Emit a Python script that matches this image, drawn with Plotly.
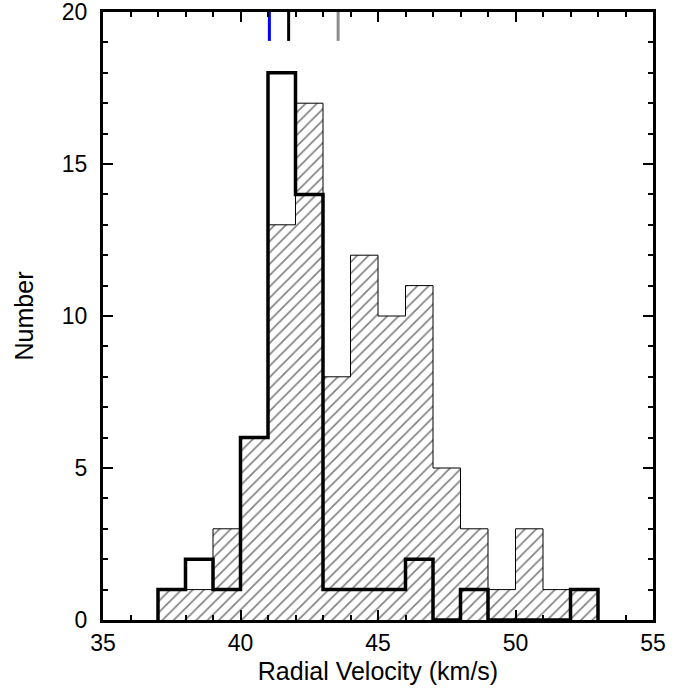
import plotly.graph_objects as go

# Histogram bin edges (left edges) and counts
bin_left = [37, 38, 39, 40, 41, 42, 43, 44, 45, 46, 47, 48, 49, 50, 51, 52]
bin_width = 1
all_counts = [1, 1, 3, 6, 13, 17, 8, 12, 10, 11, 5, 3, 1, 3, 1, 1]
sub_counts = [1, 2, 1, 6, 18, 14, 1, 1, 1, 2, 0, 1, 0, 0, 0, 1]

# Markers at top of panel
marker_x = [41.05, 41.75, 43.55]
marker_colors = ["#0000ff", "#000000", "#8c8c8c"]
marker_y = [19.05, 20]

x_ticks = [35, 40, 45, 50, 55]
y_ticks = [0, 5, 10, 15, 20]


def step_xy(lefts, counts, w):
    xs = [lefts[0]]
    ys = [0]
    for l, c in zip(lefts, counts):
        xs.append(l)
        ys.append(c)
    xs.append(lefts[-1] + w)
    ys.append(counts[-1])
    xs.append(lefts[-1] + w)
    ys.append(0)
    return xs, ys


fig = go.Figure()

xa, ya = step_xy(bin_left, all_counts, bin_width)
fig.add_trace(go.Scatter(
    x=xa, y=ya, mode="lines", line=dict(shape="hv", color="black", width=1),
    fill="tozeroy", fillcolor="white",
    fillpattern=dict(shape="/", fgcolor="black", bgcolor="white", size=8, solidity=0.2),
    hoverinfo="skip", showlegend=False,
))

xs, ys = step_xy(bin_left, sub_counts, bin_width)
fig.add_trace(go.Scatter(
    x=xs, y=ys, mode="lines", line=dict(shape="hv", color="black", width=3.5),
    hoverinfo="skip", showlegend=False,
))

for mx, mc in zip(marker_x, marker_colors):
    fig.add_trace(go.Scatter(
        x=[mx, mx], y=marker_y, mode="lines", line=dict(color=mc, width=3),
        hoverinfo="skip", showlegend=False,
    ))

font = "Liberation Sans, Arial, Helvetica, sans-serif"
fig.update_layout(
    width=694, height=690,
    margin=dict(l=103, r=41, t=12, b=70),
    paper_bgcolor="white", plot_bgcolor="white",
    font=dict(family=font, size=23, color="black"),
)
fig.update_xaxes(
    range=[35, 55], tickvals=x_ticks, ticks="inside", ticklen=10, tickwidth=2,
    tickcolor="black", showline=True, linewidth=3, linecolor="black", mirror="ticks",
    showgrid=False, zeroline=False, ticklabelstandoff=0, automargin=False,
    ticklabeloverflow="allow",
    minor=dict(dtick=1, ticks="inside", ticklen=5, tickwidth=2, tickcolor="black", showgrid=False),
    title=dict(text="Radial Velocity (km/s)", font=dict(size=25), standoff=8),
    tickfont=dict(size=23),
)
fig.update_yaxes(
    range=[0, 20], tickvals=y_ticks, ticks="inside", ticklen=10, tickwidth=2,
    tickcolor="black", showline=True, linewidth=3, linecolor="black", mirror="ticks",
    showgrid=False, zeroline=False, ticklabelstandoff=8, automargin=False,
    ticklabeloverflow="allow",
    minor=dict(dtick=1, ticks="inside", ticklen=5, tickwidth=2, tickcolor="black", showgrid=False),
    title=dict(text="Number", font=dict(size=25), standoff=22),
    tickfont=dict(size=23),
)

fig.write_html("out.html")
